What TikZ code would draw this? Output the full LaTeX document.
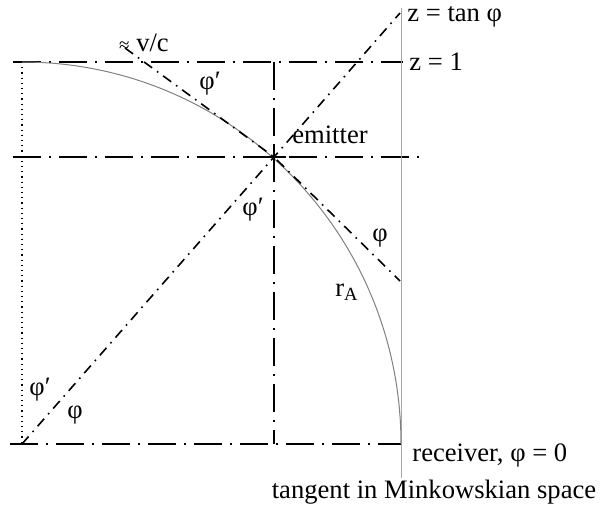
\documentclass[tikz,border=0pt]{standalone}
\usepackage{xcolor}
\usepackage{fontspec}
\setmainfont{Liberation Serif}
\usepackage{tikz}

\tikzset{
  axisline/.style={line width=1pt, dash pattern=on 14pt off 4pt on 1pt off 4pt},
  rayline/.style={line width=0.8pt, dash pattern=on 5pt off 3pt on 0.8pt off 3pt},
  lbl/.style={font=\fontsize{13.3pt}{16pt}\selectfont, inner sep=1pt}
}

\begin{document}
\begin{tikzpicture}[x=0.5pt, y=-0.5pt]
    \useasboundingbox (0,0) rectangle (600,508);

    % Points
    \coordinate (O) at (22,444);
    \coordinate (emitter) at (274,157);
    \coordinate (top) at (22,62);
    \coordinate (recv) at (401,444);

    % Horizontal axes
    \draw[axisline] (13,62) -- (403,62);
    \draw[axisline] (13,157) -- (425,157);
    \draw[axisline] (10,444) -- (recv);

    % Vertical through emitter
    \draw[axisline, line width=1.2pt] (274,62) -- (274,444);

    % Minkowski tangent (gray) and dotted left edge
    \draw[gray!70, line width=0.5pt] (401,8) -- (401,478);
    \draw[dotted, line width=0.6pt] (top) -- (O);

    % Curve r_A
    \draw[gray, line width=0.5pt] (top) arc[start angle=-90, end angle=0, x radius=379, y radius=382];

    % Rays
    \draw[rayline] (O) -- (emitter) -- (400,13);
    \draw[rayline] (125,48) -- (emitter) -- (400,281);

    % Emitter cross
    \draw[line width=1pt] (274,146) -- (274,172);
    \draw[line width=1pt] (262,157) -- (286,157);

    % Add the text
    \node[lbl] (vc) at (144,43) {{\fontsize{9.5pt}{10pt}\selectfont≈}\ v/c};
    \node[lbl] (phiA) at (210,84) {φ′};
    \node[lbl] (em) at (330,135) {emitter};
    \node[lbl] (phiB) at (253,210) {φ′};
    \node[lbl] (phiC) at (380,238) {φ};
    \node[lbl] (rA) at (347,292) {r\textsubscript{A}};
    \node[lbl] (phiD) at (40,390) {φ′};
    \node[lbl] (phiE) at (75,415) {φ};
    \node[lbl, anchor=west] (ztan) at (405,17) {z = tan φ};
    \node[lbl, anchor=west] (zone) at (407,62) {z = 1};
    \node[lbl, anchor=west] (receiver) at (410,455) {receiver, φ = 0};
    \node[lbl] (mink) at (434,492) {tangent in Minkowskian space};
\end{tikzpicture}
\end{document}
